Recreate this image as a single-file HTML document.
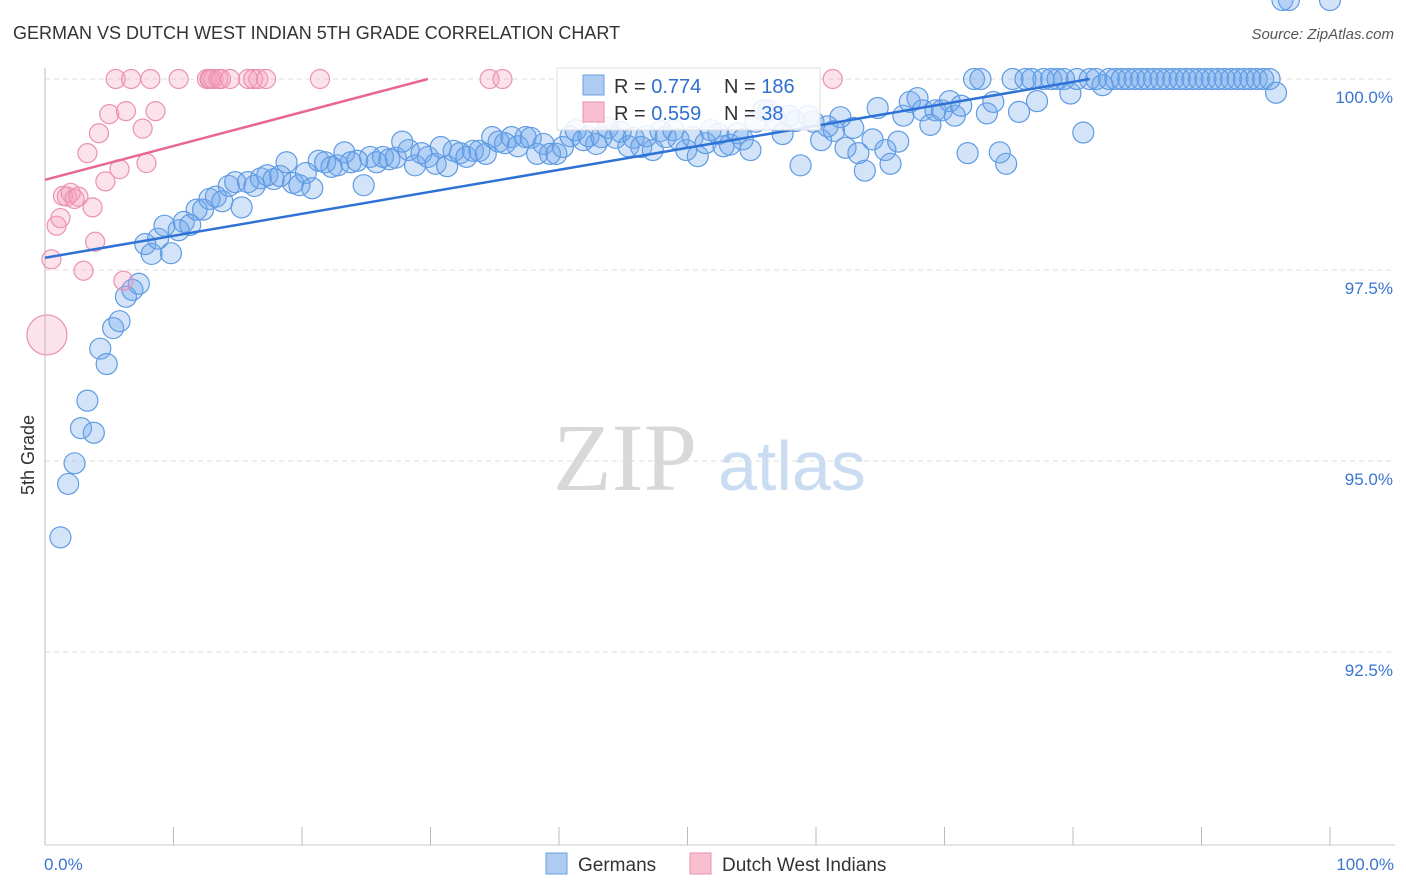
<!DOCTYPE html>
<html><head><meta charset="utf-8"><style>
body{margin:0;background:#fff;font-family:"Liberation Sans",sans-serif;}
svg{display:block}
</style></head><body>
<svg id="chart" width="1406" height="892" xmlns="http://www.w3.org/2000/svg">
<text x="13" y="39" font-size="18" fill="#333">GERMAN VS DUTCH WEST INDIAN 5TH GRADE CORRELATION CHART</text>
<text x="1394" y="39" font-size="15" fill="#555" font-style="italic" text-anchor="end">Source: ZipAtlas.com</text>
<g>
<text x="553" y="490" font-size="96" font-family="Liberation Serif,serif" fill="#d8d8d8">ZIP</text>
<text x="718" y="490" font-size="70" fill="#c9dcf2">atlas</text>
</g>
<g id="grid"></g>
<g id="axes"></g>
<g id="pts"></g>
<g id="lines"></g>
<text transform="translate(34,455) rotate(-90)" font-size="18" fill="#333" text-anchor="middle">5th Grade</text>
<g>
<rect x="557" y="68" width="263" height="62" fill="#fff" fill-opacity="0.85" stroke="#ddd"/>
<rect x="583" y="75" width="21" height="20" fill="#aecbf2" stroke="#6aa0e0"/>
<rect x="583" y="102" width="21" height="20" fill="#f7bfd0" stroke="#e890ab"/>
<text x="614" y="93" font-size="20" fill="#333">R = <tspan fill="#2f6fd0">0.774</tspan></text>
<text x="724" y="93" font-size="20" fill="#333">N = <tspan fill="#2f6fd0">186</tspan></text>
<text x="614" y="120" font-size="20" fill="#333">R = <tspan fill="#2f6fd0">0.559</tspan></text>
<text x="724" y="120" font-size="20" fill="#333">N = <tspan fill="#2f6fd0"> 38</tspan></text>
</g>
<g>
<g><rect x="546" y="853" width="21" height="21" fill="#aecbf2" stroke="#6aa0e0"/><text x="578" y="871" font-size="19" fill="#333">Germans</text></g>
<g><rect x="690" y="853" width="21" height="21" fill="#f7bfd0" stroke="#e890ab"/><text x="722" y="871" font-size="19" fill="#333">Dutch West Indians</text></g>
</g>
</svg>
<script>
const yTicks=[100,97.5,95,92.5];
const yTickLabels=["100.0%","97.5%","95.0%","92.5%"];
const xTickLabels=["0.0%","100.0%"];
const blueX=[1.2,1.8,2.3,2.8,3.3,3.8,4.3,4.8,5.3,5.8,6.3,6.8,7.3,7.8,8.3,8.8,9.3,9.8,10.4,10.8,11.3,11.8,12.3,12.8,13.3,13.8,14.3,14.8,15.3,15.8,16.3,16.8,17.3,17.8,18.3,18.8,19.3,19.8,20.3,20.8,21.3,21.8,22.3,22.8,23.3,23.8,24.3,24.8,25.3,25.8,26.3,26.8,27.3,27.8,28.3,28.8,29.3,29.8,30.4,30.8,31.3,31.8,32.3,32.8,33.3,33.8,34.3,34.8,35.3,35.8,36.3,36.8,37.4,37.8,38.3,38.8,39.3,39.8,40.3,40.9,41.3,41.9,42.3,42.9,43.3,43.8,44.4,44.8,45.4,45.8,46.4,46.8,47.3,47.9,48.3,48.9,49.3,49.9,50.4,50.8,51.4,51.8,52.4,52.8,53.3,53.9,54.3,54.9,55.3,55.9,56.3,56.9,57.4,57.9,58.4,58.8,59.4,59.8,60.4,60.9,61.4,61.9,62.3,62.9,63.3,63.8,64.4,64.8,65.4,65.8,66.4,66.8,67.3,67.9,68.3,68.9,69.3,69.8,70.4,70.8,71.3,71.8,72.3,72.8,73.3,73.8,74.3,74.8,75.3,75.8,76.3,76.8,77.2,77.7,78.3,78.8,79.3,79.8,80.3,80.8,81.3,81.8,82.3,82.8,83.3,83.8,84.3,84.8,85.3,85.8,86.3,86.8,87.3,87.8,88.3,88.8,89.3,89.8,90.3,90.8,91.3,91.8,92.3,92.8,93.3,93.8,94.3,94.8,95.3,95.8,96.3,96.8,100];
const blueY=[94.0,94.7,94.97,95.43,95.79,95.37,96.47,96.27,96.74,96.83,97.15,97.24,97.32,97.84,97.71,97.91,98.08,97.72,98.02,98.13,98.09,98.29,98.29,98.43,98.46,98.40,98.60,98.65,98.32,98.65,98.60,98.70,98.74,98.69,98.73,98.91,98.64,98.61,98.77,98.57,98.93,98.91,98.85,98.87,99.04,98.91,98.93,98.61,98.98,98.91,98.98,98.95,98.97,99.18,99.07,98.87,99.03,98.98,98.89,99.11,98.86,99.06,99.03,98.98,99.06,99.06,99.02,99.24,99.18,99.16,99.24,99.12,99.24,99.23,99.02,99.15,99.02,99.02,99.11,99.25,99.33,99.20,99.25,99.15,99.24,99.36,99.23,99.31,99.12,99.23,99.11,99.25,99.07,99.32,99.24,99.33,99.21,99.07,99.24,98.99,99.16,99.33,99.28,99.12,99.14,99.29,99.21,99.07,99.44,99.59,99.59,99.46,99.28,99.52,99.45,98.87,99.52,99.44,99.20,99.38,99.32,99.50,99.10,99.36,99.03,98.80,99.21,99.62,99.07,98.89,99.18,99.52,99.70,99.75,99.59,99.40,99.59,99.59,99.71,99.52,99.65,99.03,100,100,99.55,99.70,99.04,98.89,100,99.57,100,100,99.71,100,100,100,100,99.81,100,99.30,100,100,99.92,100,100,100,100,100,100,100,100,100,100,100,100,100,100,100,100,100,100,100,100,100,100,100,100,100,100,99.82];
const pinkX=[0.15,0.5,0.9,1.2,1.4,1.7,2.0,2.3,2.6,3.0,3.3,3.7,3.9,4.2,4.7,5.0,5.8,6.1,6.3,7.6,7.9,8.6,5.5,6.7,8.2,10.4,12.6,12.8,12.9,13.1,13.5,13.7,14.4,15.8,16.2,16.6,17.2,21.4,34.6,35.6,61.3];
const pinkY=[96.65,97.64,98.08,98.18,98.47,98.46,98.51,98.43,98.46,97.49,99.03,98.32,97.87,99.29,98.66,99.54,98.82,97.36,99.58,99.35,98.90,99.58,100,100,100,100,100,100,100,100,100,100,100,100,100,100,100,100,100,100,100];
const pinkR=[20];
const blueTrend=[0,97.66,81.3,100];
const pinkTrend=[0,98.68,29.8,100];
const NS="http://www.w3.org/2000/svg";
const X0=45,X1=1330,Y100=79,PX25=191;
function sx(v){return X0+(X1-X0)*v/100;}
function sy(v){return Y100+(100-v)/2.5*PX25;}
function mk(tag,attrs,parent){const e=document.createElementNS(NS,tag);for(const k in attrs)e.setAttribute(k,attrs[k]);parent.appendChild(e);return e;}
const grid=document.getElementById('grid'),axes=document.getElementById('axes'),pts=document.getElementById('pts'),lines=document.getElementById('lines');
yTicks.forEach((t,i)=>{
 const l=mk('line',{x1:X0,x2:1395,y1:sy(t),y2:sy(t),stroke:'#ddd','stroke-dasharray':'5,4'},grid);
 
 
 const tx=mk('text',{x:1393,y:sy(t)+24,'font-size':17,fill:'#3a75d0','text-anchor':'end'},axes);
 tx.textContent=yTickLabels[i];
 
 
});
const la=mk('line',{x1:X0,x2:X0,y1:68,y2:845,stroke:'#bbb'},axes);


const ba=mk('line',{x1:X0,x2:1395,y1:845,y2:845,stroke:'#ccc'},axes);


for(let i=0;i<=10;i++){
 const tk=mk('line',{x1:sx(i*10),x2:sx(i*10),y1:827,y2:845,stroke:'#bbb'},axes);
 
 
}
[[0,'start',44],[100,'end',1394]].forEach((d,i)=>{
 const t=mk('text',{x:d[2],y:870,'font-size':17,fill:'#3a75d0','text-anchor':d[1]},axes);
 t.textContent=xTickLabels[i];
 
 
});
blueX.forEach((x,i)=>{
 const c=mk('circle',{cx:sx(x),cy:sy(blueY[i]),r:10.5,fill:'rgba(110,165,235,0.3)',stroke:'#5f9be3','stroke-width':1.2},pts);
 
 
});
pinkX.forEach((x,i)=>{
 const c=mk('circle',{cx:sx(x),cy:sy(pinkY[i]),r:i===0?pinkR[0]:9.5,fill:'rgba(245,160,190,0.3)',stroke:'#eb92b0','stroke-width':1.2},pts);
 
 
});
const bl=mk('line',{x1:sx(blueTrend[0]),y1:sy(blueTrend[1]),x2:sx(blueTrend[2]),y2:sy(blueTrend[3]),stroke:'#2f72d6','stroke-width':2.5},lines);


const pl=mk('line',{x1:sx(pinkTrend[0]),y1:sy(pinkTrend[1]),x2:sx(pinkTrend[2]),y2:sy(pinkTrend[3]),stroke:'#e8678f','stroke-width':2.5},lines);


</script>
</body></html>
